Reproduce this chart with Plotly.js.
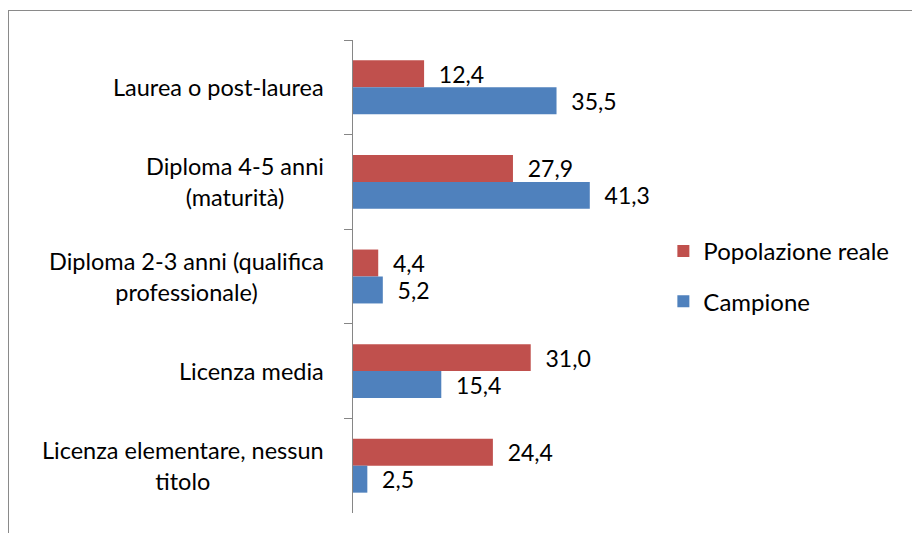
<!DOCTYPE html>
<html>
<head>
<meta charset="utf-8">
<script src="https://cdn.plot.ly/plotly-3.0.1.min.js"></script>
<style>
html,body{margin:0;padding:0;background:#fff;}
#wrap{position:relative;width:912px;height:533px;overflow:hidden;}
#chart{position:absolute;left:0;top:0;width:912px;height:533px;}
#frame{position:absolute;left:8px;top:10px;width:920px;height:540px;border:1px solid #8a8a8a;box-sizing:border-box;pointer-events:none;}
</style>
</head>
<body>
<div id="wrap"><div id="chart"></div><div id="frame"></div></div>
<script>
const categories = [
  "Laurea o post-laurea",
  "Diploma 4-5 anni<br>(maturità)",
  "Diploma 2-3 anni (qualifica<br>professionale)",
  "Licenza media",
  "Licenza elementare, nessun<br>titolo"
];
const seriesNames = ["Popolazione reale", "Campione"];
const popolazioneReale = [12.4, 27.9, 4.4, 31.0, 24.4];
const campione = [35.5, 41.3, 5.2, 15.4, 2.5];

const FONT = "Lato, 'Open Sans', sans-serif";
const pad = "\u00a0\u00a0";

const common = {
  type: "bar",
  orientation: "h",
  y: categories,
  textposition: "outside",
  texttemplate: pad + "%{x:.1f}",
  textfont: {family: FONT, size: 23, color: "#000"},
  cliponaxis: false,
  constraintext: "none",
  hoverinfo: "skip"
};

const traces = [
  Object.assign({}, common, {name: seriesNames[0], x: popolazioneReale, marker: {color: "#C0504D"}, legendgroup: "a"}),
  Object.assign({}, common, {name: seriesNames[1], x: campione, marker: {color: "#4F81BD"}, legendgroup: "b"})
];

const annotations = categories.map(c => ({
  xref: "paper", yref: "y", x: -0.1035, y: c,
  text: c, showarrow: false, xanchor: "right", yanchor: "middle", align: "center",
  font: {family: FONT, size: 23.5, color: "#000"}
}));

const layout = {
  width: 912, height: 533,
  margin: {l: 352.7, r: 301.3, t: 40, b: 20, pad: 0},
  paper_bgcolor: "rgba(0,0,0,0)", plot_bgcolor: "rgba(0,0,0,0)",
  separators: ",.",
  barmode: "group", bargap: 0.43, bargroupgap: 0,
  font: {family: FONT, color: "#000"},
  xaxis: {range: [0, 45], visible: false, fixedrange: true},
  yaxis: {
    type: "category", autorange: "reversed",
    showticklabels: false, showline: true, linecolor: "#868686", linewidth: 1,
    ticks: "outside", tickson: "boundaries", ticklen: 8, tickcolor: "#868686", tickwidth: 1,
    showgrid: false, zeroline: false, fixedrange: true
  },
  legend: {
    x: 1.203, y: 0.5, xanchor: "left", yanchor: "middle",
    font: {family: FONT, size: 24, color: "#000"},
    traceorder: "grouped", tracegroupgap: 16, bgcolor: "rgba(0,0,0,0)"
  },
  showlegend: true,
  annotations: annotations
};

Plotly.newPlot("chart", traces, layout, {displayModeBar: false, staticPlot: true});
</script>
</body>
</html>
